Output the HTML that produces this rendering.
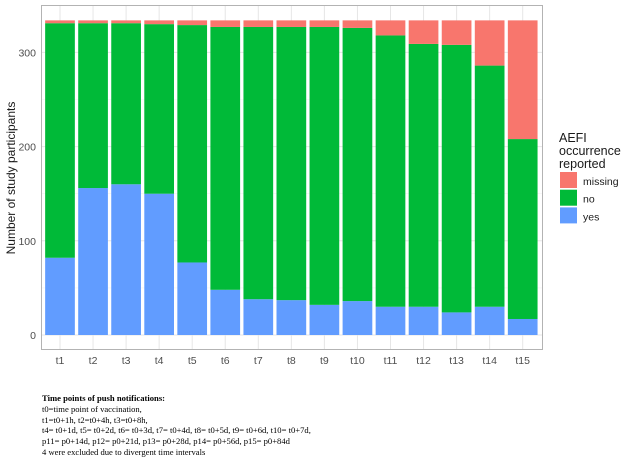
<!DOCTYPE html>
<html><head><meta charset="utf-8"><style>
body{margin:0;width:635px;height:468px;background:#fff;overflow:hidden;font-family:"Liberation Sans",sans-serif}
#cap{position:absolute;left:42px;top:393px;font-family:"Liberation Serif",serif;font-size:8.6px;line-height:10.8px;color:#000;white-space:nowrap}
</style></head><body>
<svg id="chart" width="635" height="390" style="position:absolute;left:0;top:0"></svg>
<div id="cap"><b>Time points of push notifications:</b><br>t0=time point of vaccination,<br>t1=t0+1h, t2=t0+4h, t3=t0+8h,<br>t4= t0+1d, t5= t0+2d, t6= t0+3d, t7= t0+4d, t8= t0+5d, t9= t0+6d, t10= t0+7d,<br>p11= p0+14d, p12= p0+21d, p13= p0+28d, p14= p0+56d, p15= p0+84d<br>4 were excluded due to divergent time intervals</div>
<script>
const categories=["t1","t2","t3","t4","t5","t6","t7","t8","t9","t10","t11","t12","t13","t14","t15"];
const yesValues=[82,156,160,150,77,48,38,37,32,36,30,30,24,30,17];
const noValues=[249,175,171,180,252,279,289,290,295,290,288,279,284,256,191];
const missingValues=[3,3,3,4,5,7,7,7,7,8,16,25,26,48,126];
const yTicks=[0,100,200,300];
const NS="http://www.w3.org/2000/svg";
const svg=document.getElementById('chart');
const L=41,R=543,T=5,B=350;
const y0=335,k=0.942;
const ys=v=>y0-v*k;
const xs=i=>60+i*33.05;
function mk(t,a,p){const e=document.createElementNS(NS,t);for(const n in a)e.setAttribute(n,a[n]);(p||svg).appendChild(e);return e;}
let e=mk('rect',{x:L,y:T,width:R-L,height:B-T,fill:'#fff'});


for(let v=50;v<=350;v+=100){if(ys(v)>T){e=mk('line',{x1:L,x2:R,y1:ys(v),y2:ys(v),stroke:'#f2f2f2','stroke-width':0.6});}}
yTicks.forEach(v=>{e=mk('line',{x1:L,x2:R,y1:ys(v),y2:ys(v),stroke:'#e6e6e6','stroke-width':1});
e=mk('text',{x:36,y:ys(v)+4,'text-anchor':'end','font-size':10.5,fill:'#4d4d4d'});e.textContent=v;});
categories.forEach((c,i)=>{e=mk('line',{x1:xs(i),x2:xs(i),y1:T,y2:B,stroke:'#e6e6e6'});});
const w=29.7;
categories.forEach((c,i)=>{
 const segs=[[0,yesValues[i],'#619cff','bar-yes-'+c],[yesValues[i],yesValues[i]+noValues[i],'#00ba38','bar-no-'+c],[yesValues[i]+noValues[i],yesValues[i]+noValues[i]+missingValues[i],'#f8766d','bar-missing-'+c]];
 segs.forEach(s=>{e=mk('rect',{x:xs(i)-w/2,y:ys(s[1]),width:w,height:ys(s[0])-ys(s[1]),fill:s[2]});});
 e=mk('text',{x:xs(i),y:364,'text-anchor':'middle','font-size':10.5,fill:'#4d4d4d'});e.textContent=c;
});
e=mk('rect',{x:L+0.5,y:T+0.5,width:R-L-1,height:B-T-1,fill:'none',stroke:'#b3b3b3'});

e=mk('text',{x:0,y:0,'font-size':12,fill:'#1a1a1a','text-anchor':'middle',transform:'translate(15,178) rotate(-90)'});e.textContent='Number of study participants';

['AEFI','occurrence','reported'].forEach((t,i)=>{e=mk('text',{x:559,y:142+i*13,'font-size':12.5,fill:'#1a1a1a'});e.textContent=t;});
[['missing','#f8766d'],['no','#00ba38'],['yes','#619cff']].forEach((d,i)=>{
 e=mk('rect',{x:560,y:172+i*17.7,width:17,height:16,fill:d[1]});
 e=mk('text',{x:583,y:185+i*17.7,'font-size':10.5,fill:'#1a1a1a'});e.textContent=d[0];
});
</script>
</body></html>
